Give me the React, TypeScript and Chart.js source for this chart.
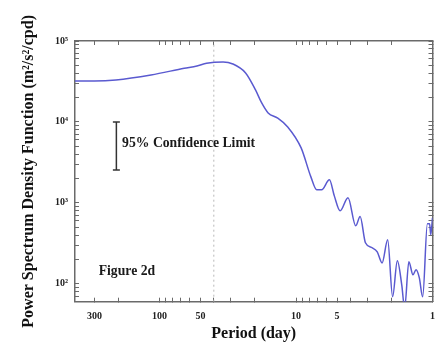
import { useEffect, useRef } from 'react';
import { Chart, registerables } from 'chart.js';

Chart.register(...registerables);

// Period (day) of each spectral estimate
const periods = [416, 299.6, 208.6, 115.4, 65.9, 53.2, 45.2, 34.2, 29.0, 23.4, 19.8, 18.0, 16.0, 13.6, 11.5, 9.17, 7.78, 7.05, 6.49, 5.69, 5.24, 4.75, 4.16, 3.65, 3.39, 3.10, 2.76, 2.54, 2.34, 2.13, 1.96, 1.81, 1.68, 1.60, 1.49, 1.39, 1.32, 1.25, 1.18, 1.09, 1.05, 1.03, 1.0];
// Power spectral density (m²/s²/cpd)
const psd = [32060, 32060, 33000, 38050, 46000, 49100, 53050, 55080, 52000, 40300, 24850, 17660, 12910, 11110, 8675, 4775, 2094, 1446, 1446, 1922, 1219, 796, 1153, 520, 678, 321, 278, 248, 181, 349, 69, 192, 97, 50, 187, 129, 149, 119, 69, 551, 551, 403, 653];

const xTickValues = [300, 200, 100, 90, 80, 70, 60, 50, 40, 30, 20, 10, 9, 8, 7, 6, 5, 4, 3, 2, 1];
const xTickLabels = [300, 100, 50, 10, 5, 1];
const yTickValues = [60, 70, 80, 90, 100, 200, 300, 400, 500, 600, 700, 800, 900, 1000, 2000, 3000, 4000, 5000, 6000, 7000, 8000, 9000, 10000, 20000, 30000, 40000, 50000, 60000, 70000, 80000, 90000, 100000];
const yTickLabels: Record<number, string> = { 100: '10²', 1000: '10³', 10000: '10⁴', 100000: '10⁵' };

const periodMin = 1;
const periodMax = 416;
const psdMin = 60;
const psdMax = 100000;

const markerPeriod = 40;
const confidencePeriod = 207;
const confidenceLow = 2550;
const confidenceHigh = 10000;

const confidenceText = '95% Confidence Limit';
const confidenceTextAt = { x: 188, y: 5350 };
const figureText = 'Figure 2d';
const figureTextAt = { x: 279, y: 140 };

const serif = "'Liberation Serif', 'Times New Roman', serif";
const axisColor = '#6a6a6a';

export default function App() {
  const ref = useRef<HTMLCanvasElement | null>(null);

  useEffect(() => {
    if (!ref.current) return;
    const textPlugin = {
      id: 'annotText',
      afterDatasetsDraw(chart: any) {
        const { ctx, scales } = chart;
        const xs = scales.x;
        const ys = scales.y;
        ctx.save();
        ctx.fillStyle = '#1a1a1a';
        ctx.textBaseline = 'middle';
        ctx.textAlign = 'left';
        ctx.font = `bold 13.7px ${serif}`;
        ctx.fillText(confidenceText, xs.getPixelForValue(confidenceTextAt.x), ys.getPixelForValue(confidenceTextAt.y));
        ctx.fillText(figureText, xs.getPixelForValue(figureTextAt.x), ys.getPixelForValue(figureTextAt.y));
        ctx.restore();
      },
    };

    const gridCommon = {
      drawOnChartArea: false,
      drawTicks: true,
      tickLength: -4,
      color: axisColor,
      lineWidth: 1,
    };
    const borderCommon = { display: true, color: axisColor, width: 1.5 };

    const chart = new Chart(ref.current, {
      type: 'line',
      data: {
        datasets: [
          {
            data: periods.map((p, i) => ({ x: p, y: psd[i] })),
            borderColor: '#5a5ad0',
            borderWidth: 1.5,
            pointRadius: 0,
            cubicInterpolationMode: 'monotone',
            xAxisID: 'x',
            yAxisID: 'y',
          },
          {
            data: [
              { x: markerPeriod, y: psdMin },
              { x: markerPeriod, y: psdMax },
            ],
            borderColor: '#b8b8b8',
            borderWidth: 1,
            borderDash: [2, 3],
            pointRadius: 0,
            xAxisID: 'x',
            yAxisID: 'y',
          },
          {
            data: [
              { x: confidencePeriod, y: confidenceLow },
              { x: confidencePeriod, y: confidenceHigh },
            ],
            borderColor: '#333',
            borderWidth: 1.5,
            pointStyle: 'line',
            pointRadius: 3.5,
            pointBorderWidth: 1.5,
            pointBorderColor: '#333',
            xAxisID: 'x',
            yAxisID: 'y',
          },
        ],
      } as any,
      options: {
        animation: false,
        responsive: false,
        maintainAspectRatio: false,
        layout: { padding: 0 },
        plugins: { legend: { display: false }, tooltip: { enabled: false } },
        scales: {
          x: {
            type: 'logarithmic',
            position: 'bottom',
            min: periodMin,
            max: periodMax,
            reverse: true,
            afterFit: (s: any) => { s.height = 42.3; },
            afterBuildTicks: (s: any) => { s.ticks = xTickValues.map((v) => ({ value: v })); },
            ticks: {
              autoSkip: false,
              maxRotation: 0,
              padding: 13,
              color: '#222',
              font: { family: serif, size: 10, weight: 'bold' },
              callback: (v: any) => (xTickLabels.includes(Number(v)) ? String(v) : ''),
            },
            grid: gridCommon,
            border: borderCommon,
            title: {
              display: true,
              text: 'Period (day)',
              color: '#111',
              font: { family: serif, size: 16, weight: 'bold' },
              padding: { top: 0, bottom: 1 },
            },
          },
          x2: {
            type: 'logarithmic',
            position: 'top',
            min: periodMin,
            max: periodMax,
            reverse: true,
            afterFit: (s: any) => { s.height = 41; },
            afterBuildTicks: (s: any) => { s.ticks = xTickValues.map((v) => ({ value: v })); },
            ticks: { display: false, autoSkip: false },
            grid: gridCommon,
            border: borderCommon,
          },
          y: {
            type: 'logarithmic',
            position: 'left',
            min: psdMin,
            max: psdMax,
            afterFit: (s: any) => { s.width = 75; },
            afterBuildTicks: (s: any) => { s.ticks = yTickValues.map((v) => ({ value: v })); },
            ticks: {
              autoSkip: false,
              padding: 11,
              color: '#222',
              font: { family: serif, size: 10, weight: 'bold' },
              callback: (v: any) => yTickLabels[Number(v)] ?? '',
            },
            grid: gridCommon,
            border: borderCommon,
            title: {
              display: true,
              text: 'Power Spectrum Density Function (m²/s²/cpd)',
              color: '#111',
              font: { family: serif, size: 16, weight: 'bold' },
              padding: { top: 19, bottom: 0 },
            },
          },
          y2: {
            type: 'logarithmic',
            position: 'right',
            min: psdMin,
            max: psdMax,
            afterFit: (s: any) => { s.width = 6.3; },
            afterBuildTicks: (s: any) => { s.ticks = yTickValues.map((v) => ({ value: v })); },
            ticks: { display: false, autoSkip: false },
            grid: gridCommon,
            border: borderCommon,
          },
        },
      } as any,
      plugins: [textPlugin],
    });
    return () => chart.destroy();
  }, []);

  return (
    <div style={{ position: 'fixed', left: 0, top: 0, width: 448, height: 344, background: '#fff' }}>
      <canvas ref={ref} width={448} height={344} style={{ width: 448, height: 344 }} />
    </div>
  );
}
